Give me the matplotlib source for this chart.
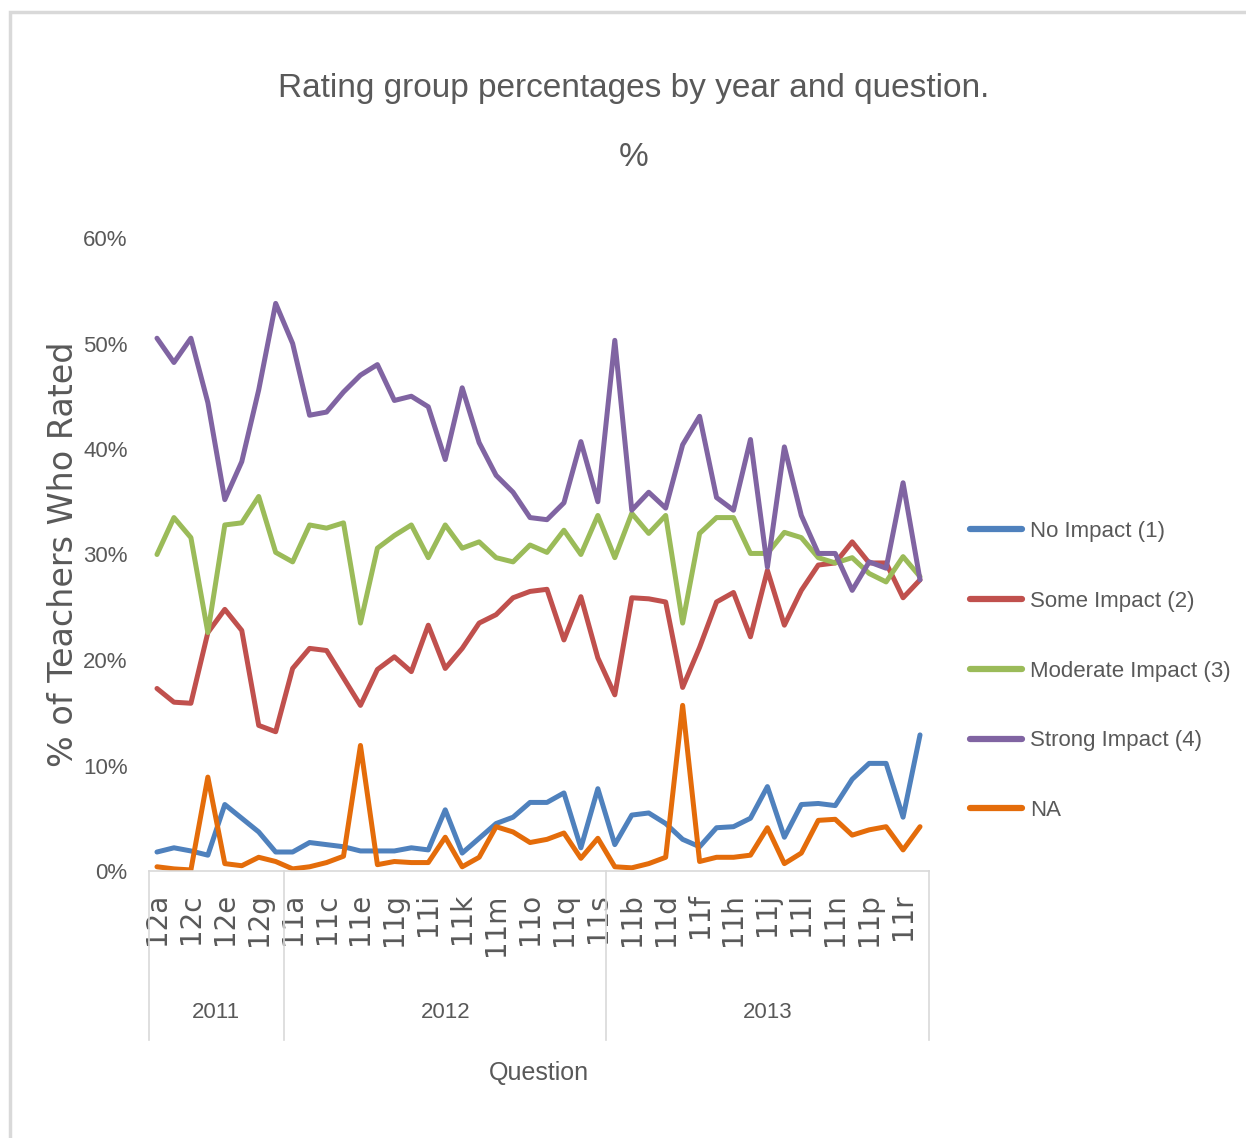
import matplotlib
matplotlib.use("Agg")
import matplotlib.pyplot as plt
from matplotlib.patches import Rectangle
import matplotlib.transforms as mtransforms

# --- data (percent of teachers) ---
years = ["2011", "2012", "2013"]
q_2011 = ["12a", "12b", "12c", "12d", "12e", "12f", "12g", "12h"]
q_2012 = ["11" + c for c in "abcdefghijklmnopqrs"]
q_2013 = ["11" + c for c in "abcdefghijklmnopqrs"]
questions = q_2011 + q_2012 + q_2013

no_impact = [1.8, 2.2, 1.9, 1.5, 6.3, 5.0, 3.7, 1.8,
             1.8, 2.7, 2.5, 2.3, 1.9, 1.9, 1.9, 2.2, 2.0, 5.8, 1.7, 3.1, 4.5, 5.1, 6.5, 6.5, 7.4, 2.2, 7.8,
             2.5, 5.3, 5.5, 4.5, 3.0, 2.3, 4.1, 4.2, 5.0, 8.0, 3.2, 6.3, 6.4, 6.2, 8.7, 10.2, 10.2, 5.1, 12.9]
some_impact = [17.3, 16.0, 15.9, 22.6, 24.8, 22.8, 13.8, 13.2,
               19.2, 21.1, 20.9, 18.3, 15.7, 19.1, 20.3, 18.9, 23.3, 19.2, 21.1, 23.5, 24.3, 25.9, 26.5, 26.7, 21.9, 26.0, 20.2,
               16.7, 25.9, 25.8, 25.5, 17.4, 21.2, 25.5, 26.4, 22.2, 28.5, 23.3, 26.6, 29.0, 29.2, 31.2, 29.2, 29.2, 25.9, 27.6]
moderate_impact = [30.0, 33.5, 31.6, 22.6, 32.8, 33.0, 35.5, 30.2,
                   29.3, 32.8, 32.5, 33.0, 23.5, 30.6, 31.8, 32.8, 29.7, 32.8, 30.6, 31.2, 29.7, 29.3, 30.9, 30.2, 32.3, 30.0, 33.7,
                   29.7, 33.9, 32.0, 33.7, 23.5, 32.0, 33.5, 33.5, 30.1, 30.1, 32.1, 31.6, 29.7, 29.2, 29.7, 28.2, 27.4, 29.8, 27.9]
strong_impact = [50.5, 48.2, 50.5, 44.4, 35.2, 38.8, 45.6, 53.8,
                 50.0, 43.2, 43.5, 45.4, 47.0, 48.0, 44.6, 45.0, 44.0, 39.0, 45.8, 40.6, 37.5, 35.9, 33.5, 33.3, 34.9, 40.7, 35.0,
                 50.3, 34.2, 35.9, 34.4, 40.4, 43.1, 35.4, 34.2, 40.9, 28.8, 40.2, 33.7, 30.1, 30.1, 26.6, 29.3, 28.7, 36.8, 27.6]
na = [0.4, 0.2, 0.1, 8.9, 0.7, 0.5, 1.3, 0.9,
      0.2, 0.4, 0.8, 1.4, 11.9, 0.6, 0.9, 0.8, 0.8, 3.2, 0.4, 1.3, 4.2, 3.7, 2.7, 3.0, 3.6, 1.2, 3.1,
      0.4, 0.3, 0.7, 1.3, 15.7, 0.9, 1.3, 1.3, 1.5, 4.1, 0.7, 1.7, 4.8, 4.9, 3.4, 3.9, 4.2, 2.0, 4.2]

series = [
    ("No Impact (1)", no_impact, "#4F81BD"),
    ("Some Impact (2)", some_impact, "#C0504D"),
    ("Moderate Impact (3)", moderate_impact, "#9BBB59"),
    ("Strong Impact (4)", strong_impact, "#8064A2"),
    ("NA", na, "#E46C0A"),
]

font = "Liberation Sans"
grey = "#595959"

W, H = 1246, 1138
fig = plt.figure(figsize=(W / 100, H / 100), dpi=100)
fig.patch.set_facecolor("white")

# outer chart border
fig.patches.append(Rectangle((10 / W, -0.05), 1.2, 1 - 12 / H + 0.05, transform=fig.transFigure,
                             fill=False, edgecolor="#D9D9D9", lw=2.5))

ax = fig.add_axes([148.5 / W, 1 - 871 / H, 780 / W, (871 - 238) / H])
x = list(range(len(questions)))
for label, vals, col in series:
    ax.plot(x, vals, color=col, lw=3.6, label=label, solid_joinstyle="round", solid_capstyle="round")

ax.set_xlim(-0.5, len(questions) - 0.5)
ax.set_ylim(0, 60)
ax.set_yticks(range(0, 61, 10))
ax.set_yticklabels([f"{v}%" for v in range(0, 61, 10)], fontfamily=font, fontsize=16, color=grey)
ax.tick_params(axis="y", length=0, pad=15)

ax.set_xticks(x[::2])
ax.set_xticklabels(questions[::2], rotation=90, fontfamily="DejaVu Sans", fontsize=20, color=grey)
ax.tick_params(axis="x", length=0, pad=16)

for s in ["top", "right", "left"]:
    ax.spines[s].set_visible(False)
ax.spines["bottom"].set_color("#D9D9D9")
ax.spines["bottom"].set_linewidth(1.2)

# year group separators and labels
trans = mtransforms.blended_transform_factory(ax.transData, ax.transAxes)
bounds = [-0.5, len(q_2011) - 0.5, len(q_2011) + len(q_2012) - 0.5, len(questions) - 0.5]
sep_bottom = -(1040 - 871) / (871 - 238)
for b in bounds:
    ax.plot([b, b], [0, sep_bottom], transform=trans, color="#D9D9D9", lw=1.2, clip_on=False)
year_y = -(1013 - 871) / (871 - 238)
for yr, lo, hi in zip(years, bounds[:-1], bounds[1:]):
    ax.text((lo + hi) / 2, year_y, yr, transform=trans, ha="center", va="center",
            fontfamily=font, fontsize=16, color=grey)

ax.text(0.5, -(1073 - 871) / (871 - 238), "Question", transform=ax.transAxes, ha="center", va="center",
        fontfamily=font, fontsize=18, color=grey)
ax.set_ylabel("% of Teachers Who Rated", fontfamily="DejaVu Sans", fontsize=24, color=grey)
ax.yaxis.set_label_coords((80 - 148.5) / 780, 0.5)

fig.text(634 / W, 1 - 123 / H, "Rating group percentages by year and question.\n%", ha="center", va="center",
         fontfamily=font, fontsize=24, color=grey, linespacing=2.6)

leg = fig.legend(loc="center left", bbox_to_anchor=(970 / W, 1 - 671 / H), frameon=False,
                 prop={"family": font, "size": 16}, handlelength=2.35, handletextpad=0.36,
                 labelspacing=2.2, borderpad=0, borderaxespad=0)
for t in leg.get_texts():
    t.set_color(grey)
for h in leg.legend_handles:
    h.set_linewidth(4.5)

fig.savefig("out.png", dpi=100)
